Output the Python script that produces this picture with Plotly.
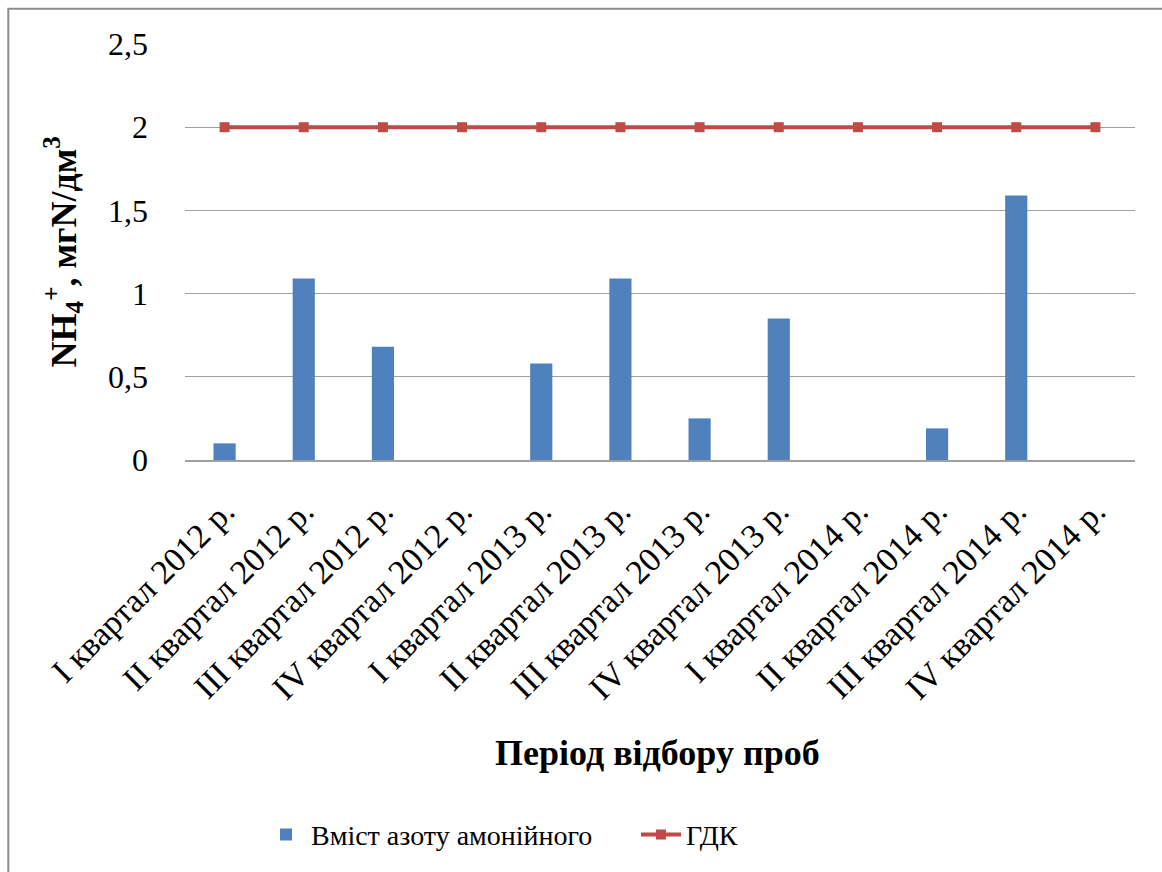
import plotly.graph_objects as go

categories = [
    "I квартал 2012 р.", "II квартал 2012 р.", "III квартал 2012 р.", "IV квартал 2012 р.",
    "I квартал 2013 р.", "II квартал 2013 р.", "III квартал 2013 р.", "IV квартал 2013 р.",
    "I квартал 2014 р.", "II квартал 2014 р.", "III квартал 2014 р.", "IV квартал 2014 р.",
]
ammonium = [0.10, 1.09, 0.68, 0.0, 0.58, 1.09, 0.25, 0.85, 0.0, 0.19, 1.59, 0.0]
gdk = [2, 2, 2, 2, 2, 2, 2, 2, 2, 2, 2, 2]
ytick_vals = [0, 0.5, 1, 1.5, 2, 2.5]
ytick_text = ["0", "0,5", "1", "1,5", "2", "2,5"]

SERIF = "Liberation Serif"

fig = go.Figure()
fig.add_trace(go.Bar(
    x=categories, y=ammonium, name="Вміст азоту амонійного",
    marker=dict(color="#4F81BD", line=dict(color="#B9CDE5", width=0)),
    width=0.28,
))
fig.add_trace(go.Scatter(
    x=categories, y=gdk, name="ГДК", mode="lines+markers",
    line=dict(color="#BE4B48", width=4),
    marker=dict(symbol="square", size=10, color="#BE4B48"),
))

fig.update_layout(
    width=1162, height=872,
    margin=dict(l=185, r=27, t=44, b=412),
    paper_bgcolor="white", plot_bgcolor="white",
    font=dict(family=SERIF, color="black"),
    showlegend=True,
    legend=dict(orientation="h", x=0.08, xanchor="left", y=-0.901, yanchor="middle",
                font=dict(size=28, family=SERIF, color="black"), itemwidth=40,
                traceorder="normal", entrywidth=320),
    xaxis=dict(
        type="category", range=[-0.5, 11.5], tickangle=-45,
        tickfont=dict(size=34, family=SERIF),
        showgrid=False, showline=True, linecolor="#A0A0A0", linewidth=1.5,
        ticks="", ticklabelstandoff=16,
    ),
    yaxis=dict(
        range=[0, 2.5], tickvals=ytick_vals, ticktext=ytick_text,
        tickfont=dict(size=32, family=SERIF),
        showgrid=True, gridcolor="#A0A0A0", gridwidth=1.2,
        zeroline=False, showline=False, ticks="", ticklabelstandoff=36,
    ),
    annotations=[
        dict(text="<b>NH<sub>4</sub><sup>+</sup>, мгN/дм<sup>3</sup></b>",
             xref="paper", yref="paper", x=-0.128, y=0.5, xanchor="center", yanchor="middle",
             textangle=-90, showarrow=False, font=dict(size=36, family=SERIF)),
        dict(text="<b>Період відбору проб</b>",
             xref="paper", yref="paper", x=0.497, y=-0.704, xanchor="center", yanchor="middle",
             showarrow=False, font=dict(size=36, family=SERIF)),
    ],
    shapes=[
        dict(type="rect", xref="paper", yref="paper", x0=-0.186, x1=1.2, y0=-2.0, y1=1.085,
             line=dict(color="#8C8C8C", width=2), fillcolor="rgba(0,0,0,0)", layer="below"),
    ],
)

fig.write_html("out.html")
